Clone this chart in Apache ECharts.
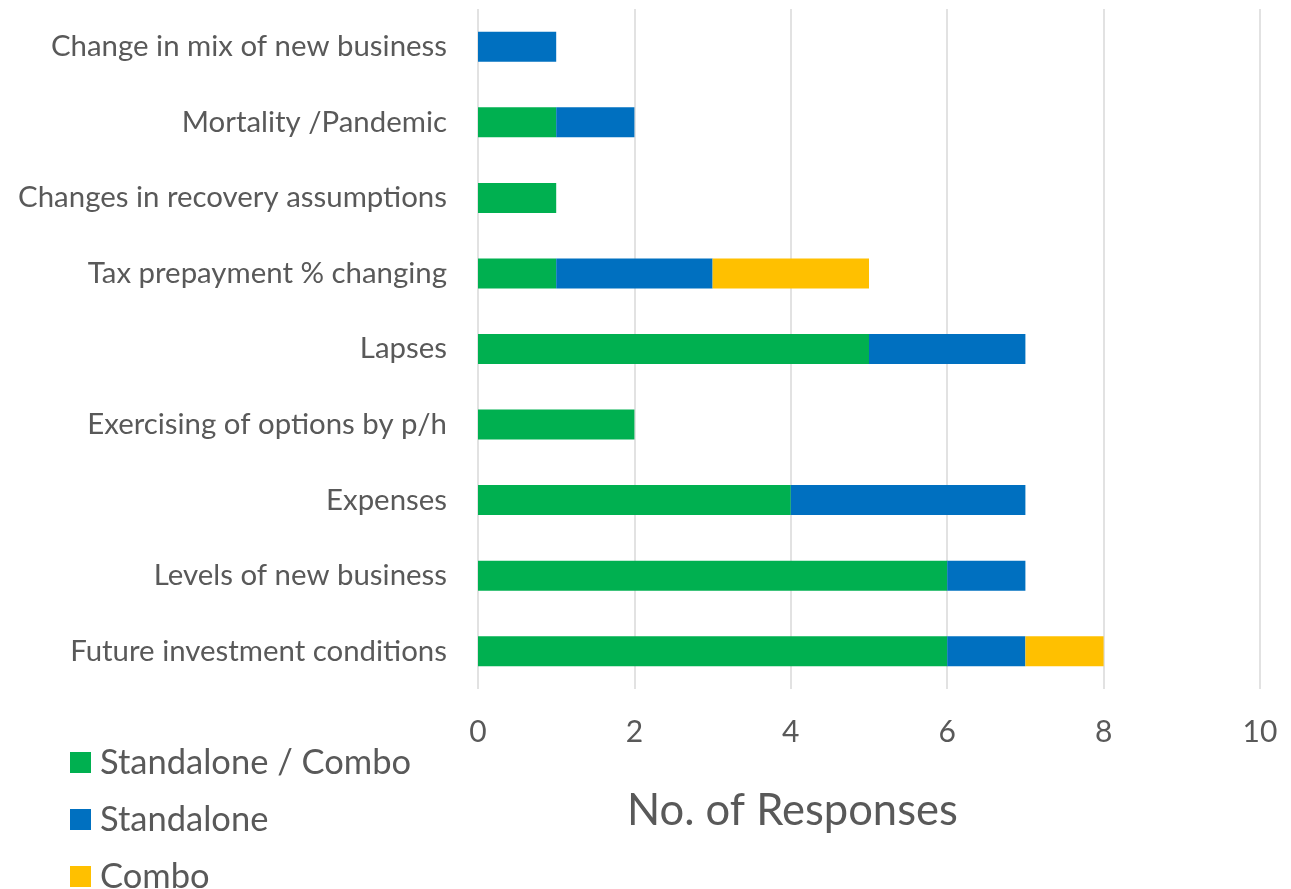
<!DOCTYPE html>
<html>
<head>
<meta charset="utf-8">
<title>No. of Responses</title>
<script src="https://cdn.jsdelivr.net/npm/echarts@6/dist/echarts.min.js"></script>
<style>
  html, body { margin: 0; padding: 0; background: #ffffff; }
  #chart { width: 1291px; height: 889px; }
</style>
</head>
<body>
<div id="chart"></div>
<script>
// Categories, top to bottom
const categories = [
  'Change in mix of new business',
  'Mortality /Pandemic',
  'Changes in recovery assumptions',
  'Tax prepayment % changing',
  'Lapses',
  'Exercising of options by p/h',
  'Expenses',
  'Levels of new business',
  'Future investment conditions'
];

// Response counts per category
const standaloneCombo = [0, 1, 1, 1, 5, 2, 4, 6, 6];
const standalone      = [1, 1, 0, 2, 2, 0, 3, 1, 1];
const combo           = [0, 0, 0, 2, 0, 0, 0, 0, 1];

const seriesNames = ['Standalone / Combo', 'Standalone', 'Combo'];
const axisTitle = 'No. of Responses';

const FONT = 'Lato, "Open Sans", sans-serif';
const TEXT = '#595959';

const chart = echarts.init(document.getElementById('chart'), null, { renderer: 'canvas' });

function barSeries(name, data, color) {
  return {
    name: name,
    type: 'bar',
    stack: 'total',
    barWidth: 30,
    itemStyle: { color: color },
    emphasis: { disabled: true },
    data: data
  };
}

// One legend block per series, stacked down the lower-left corner
const legendTops = [745, 802, 859];
const legends = seriesNames.map(function (name, i) {
  return {
    left: 70,
    top: legendTops[i],
    padding: 0,
    itemWidth: 21,
    itemHeight: 21,
    icon: 'rect',
    data: [name],
    textStyle: { fontFamily: FONT, fontSize: 34.5, color: TEXT, padding: [0, 0, 0, 4] }
  };
});

chart.setOption({
  animation: false,
  backgroundColor: '#ffffff',
  title: {
    text: axisTitle,
    left: 622,
    top: 784,
    textStyle: { fontFamily: FONT, fontSize: 43.5, fontWeight: 'normal', color: TEXT }
  },
  legend: legends,
  grid: {
    left: 478,
    right: 31,
    top: 9,
    bottom: 200,
    containLabel: false
  },
  xAxis: {
    type: 'value',
    min: 0,
    max: 10,
    interval: 2,
    axisLine: { show: false },
    axisTick: { show: false },
    splitLine: { show: true, lineStyle: { color: '#D9D9D9', width: 1.5 } },
    axisLabel: { fontFamily: FONT, fontSize: 30, color: TEXT, margin: 28 }
  },
  yAxis: {
    type: 'category',
    inverse: true,
    data: categories,
    axisLine: { show: false },
    axisTick: { show: false },
    splitLine: { show: false },
    axisLabel: { fontFamily: FONT, fontSize: 29.4, color: TEXT, margin: 31 }
  },
  series: [
    barSeries(seriesNames[0], standaloneCombo, '#00B050'),
    barSeries(seriesNames[1], standalone, '#0070C0'),
    barSeries(seriesNames[2], combo, '#FFC000')
  ]
});
</script>
</body>
</html>
